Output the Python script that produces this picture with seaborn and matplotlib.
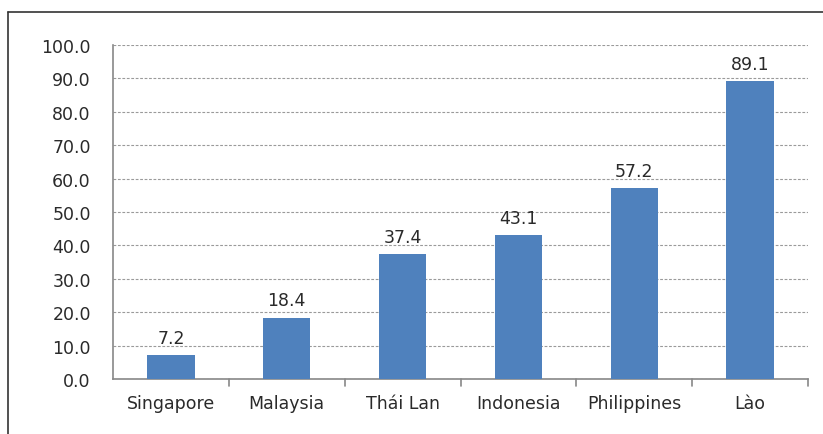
import matplotlib
matplotlib.use("Agg")
import matplotlib.pyplot as plt
import seaborn as sns
import pandas as pd
from matplotlib.lines import Line2D

countries = ["Singapore", "Malaysia", "Thái Lan", "Indonesia", "Philippines", "Lào"]
values = [7.2, 18.4, 37.4, 43.1, 57.2, 89.1]
yticks = [0, 10, 20, 30, 40, 50, 60, 70, 80, 90, 100]

sns.set_theme(style="white")
plt.rcParams['font.family'] = ['DejaVu Sans']

df = pd.DataFrame({"country": countries, "value": values})

fig = plt.figure(figsize=(8.23, 4.35), dpi=100)
ax = fig.add_axes([113/823, 1-380/435, (808-113)/823, (380-46)/435])

sns.barplot(data=df, x="country", y="value", color="#4F81BD", width=0.41,
            saturation=1, linewidth=0, ax=ax, zorder=3)

fs = 12.5
ax.set_ylim(0, 100)
ax.set_xlim(-0.5, 5.5)
ax.set_yticks(yticks)
ax.set_yticklabels([f"{v:.1f}" for v in yticks], fontsize=fs, color="#2a2a2a")
ax.set_xlabel("")
ax.set_ylabel("")
ax.tick_params(axis="x", labelsize=fs, colors="#2a2a2a", length=0, pad=11)
ax.tick_params(axis="y", length=7, width=1, color="#888888", direction="out", pad=9)
for lab in ax.get_xticklabels():
    lab.set_color("#2a2a2a")

ax.yaxis.grid(True, linestyle=(0, (2.5, 1.5)), color="#9a9a9a", linewidth=0.8, zorder=0)
ax.set_axisbelow(True)
for s in ["top", "right"]:
    ax.spines[s].set_visible(False)
for s in ["left", "bottom"]:
    ax.spines[s].set_color("#888888")
    ax.spines[s].set_linewidth(1.2)

# separator ticks between categories
for i in range(6):
    ax.plot([i + 0.5, i + 0.5], [0, -0.022], transform=ax.get_xaxis_transform(),
            color="#888888", lw=1.2, clip_on=False)

for i, v in enumerate(values):
    ax.text(i, v + 2.5, f"{v:.1f}", ha="center", va="bottom", fontsize=fs, color="#2a2a2a")

# outer frame (left and top visible)
fig.add_artist(Line2D([8/823, 8/823], [0, 1-13/435], transform=fig.transFigure, color="#333333", lw=1.2))
fig.add_artist(Line2D([8/823, 1], [1-13/435, 1-13/435], transform=fig.transFigure, color="#333333", lw=1.2))

fig.savefig("out.png", dpi=100, facecolor="white")
